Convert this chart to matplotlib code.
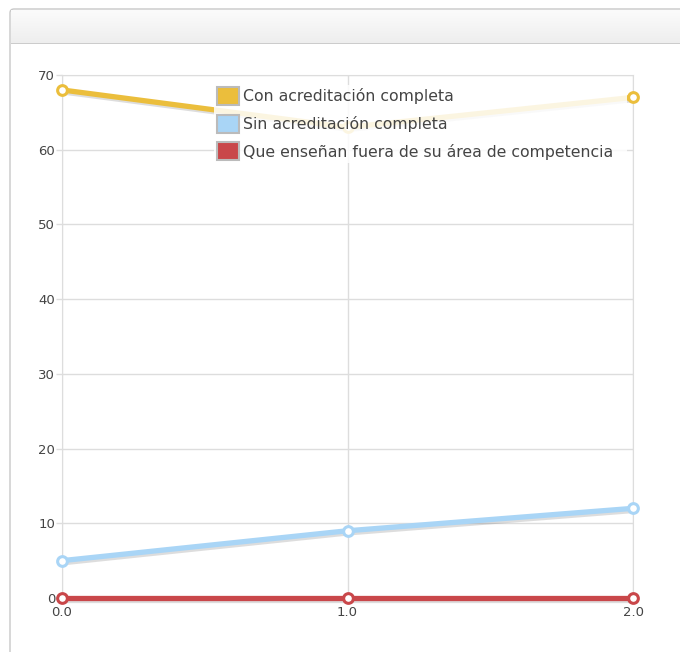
import matplotlib
matplotlib.use('Agg')
from matplotlib import pyplot as plt
from matplotlib import patches
from matplotlib import patheffects as pe
import numpy as np

x_vals = [0.0, 1.0, 2.0]
con_acreditacion = [68, 63, 67]
sin_acreditacion = [5, 9, 12]
fuera_area = [0, 0, 0]

series_names = ['Con acreditación completa', 'Sin acreditación completa',
                'Que enseñan fuera de su área de competencia']
series_colors = ['#EBBE3C', '#A9D5F6', '#C9474A']
y_ticks = [0, 10, 20, 30, 40, 50, 60, 70]
x_ticks = [0.0, 1.0, 2.0]

plt.rcParams['font.family'] = ['DejaVu Sans']

W, H = 680, 652
fig = plt.figure(figsize=(W / 100, H / 100), dpi=100)
fig.patch.set_facecolor('white')

# panel frame with header bar
frame = patches.FancyBboxPatch((10 / W, -0.1), 1.2, (H - 9) / H + 0.1,
                               boxstyle='round,pad=0,rounding_size=0.006',
                               transform=fig.transFigure, facecolor='none',
                               edgecolor='#c8c8c8', linewidth=1.0, zorder=-5)
fig.patches.append(frame)
grad = np.linspace(0, 1, 50).reshape(-1, 1)
hax = fig.add_axes([11 / W, 1 - 44 / H, 1 - 11 / W, 34 / H])
hax.imshow(grad, aspect='auto', cmap=matplotlib.colors.LinearSegmentedColormap.from_list(
    'hdr', ['#fbfbfb', '#eeeeee']), extent=[0, 1, 0, 1])
hax.axhline(0, color='#c8c8c8', lw=2)
hax.set_xlim(0, 1)
hax.set_ylim(0, 1)
hax.axis('off')

ax = fig.add_axes([62 / W, 1 - 598 / H, (633 - 62) / W, (598 - 75) / H])
ax.set_facecolor('none')

shadow = [pe.SimpleLineShadow(offset=(1.0, -1.5), shadow_color='#666666', alpha=0.22),
          pe.Normal()]
all_data = [con_acreditacion, sin_acreditacion, fuera_area]
for data, color in zip(all_data, series_colors):
    ax.plot(x_vals, data, color=color, lw=3.8, solid_capstyle='round',
            path_effects=shadow, zorder=3, clip_on=False)
    ax.plot(x_vals, data, linestyle='none', marker='o', markersize=7,
            markerfacecolor='white', markeredgecolor=color, markeredgewidth=2.2,
            zorder=4, clip_on=False)

ax.set_xlim(0, 2)
ax.set_ylim(0, 70)
ax.set_xticks(x_ticks)
ax.set_xticklabels([f'{v:.1f}' for v in x_ticks])
ax.set_yticks(y_ticks)
ax.grid(True, color='#dddddd', lw=1)
ax.set_axisbelow(True)
for name, s in ax.spines.items():
    s.set_color('#dddddd')
    s.set_visible(name != 'bottom')
ax.tick_params(axis='both', colors='#dddddd', labelcolor='#444444', labelsize=9.5,
               length=4, width=1)
ax.tick_params(axis='x', length=0, pad=6)
ax.tick_params(axis='y', pad=1)

# translucent legend background, wider than the text
leg_bg = patches.Rectangle((214 / W, 1 - 163 / H), (627 - 214) / W, (163 - 85) / H,
                           transform=fig.transFigure, facecolor='white', alpha=0.85,
                           edgecolor='none', zorder=9)
fig.patches.append(leg_bg)

handles = [patches.Patch(facecolor=c, edgecolor='#bbbbbb', linewidth=1.5) for c in series_colors]
leg = fig.legend(handles, series_names, loc='upper left',
                 bbox_to_anchor=(214 / W, 1 - 84 / H), frameon=False,
                 fontsize=11.3, labelcolor='#444444', handlelength=1.4,
                 handleheight=1.4, handletextpad=0.25, labelspacing=0.6,
                 borderpad=0.2, borderaxespad=0)
leg.set_zorder(10)

fig.savefig('out.png', dpi=100)
